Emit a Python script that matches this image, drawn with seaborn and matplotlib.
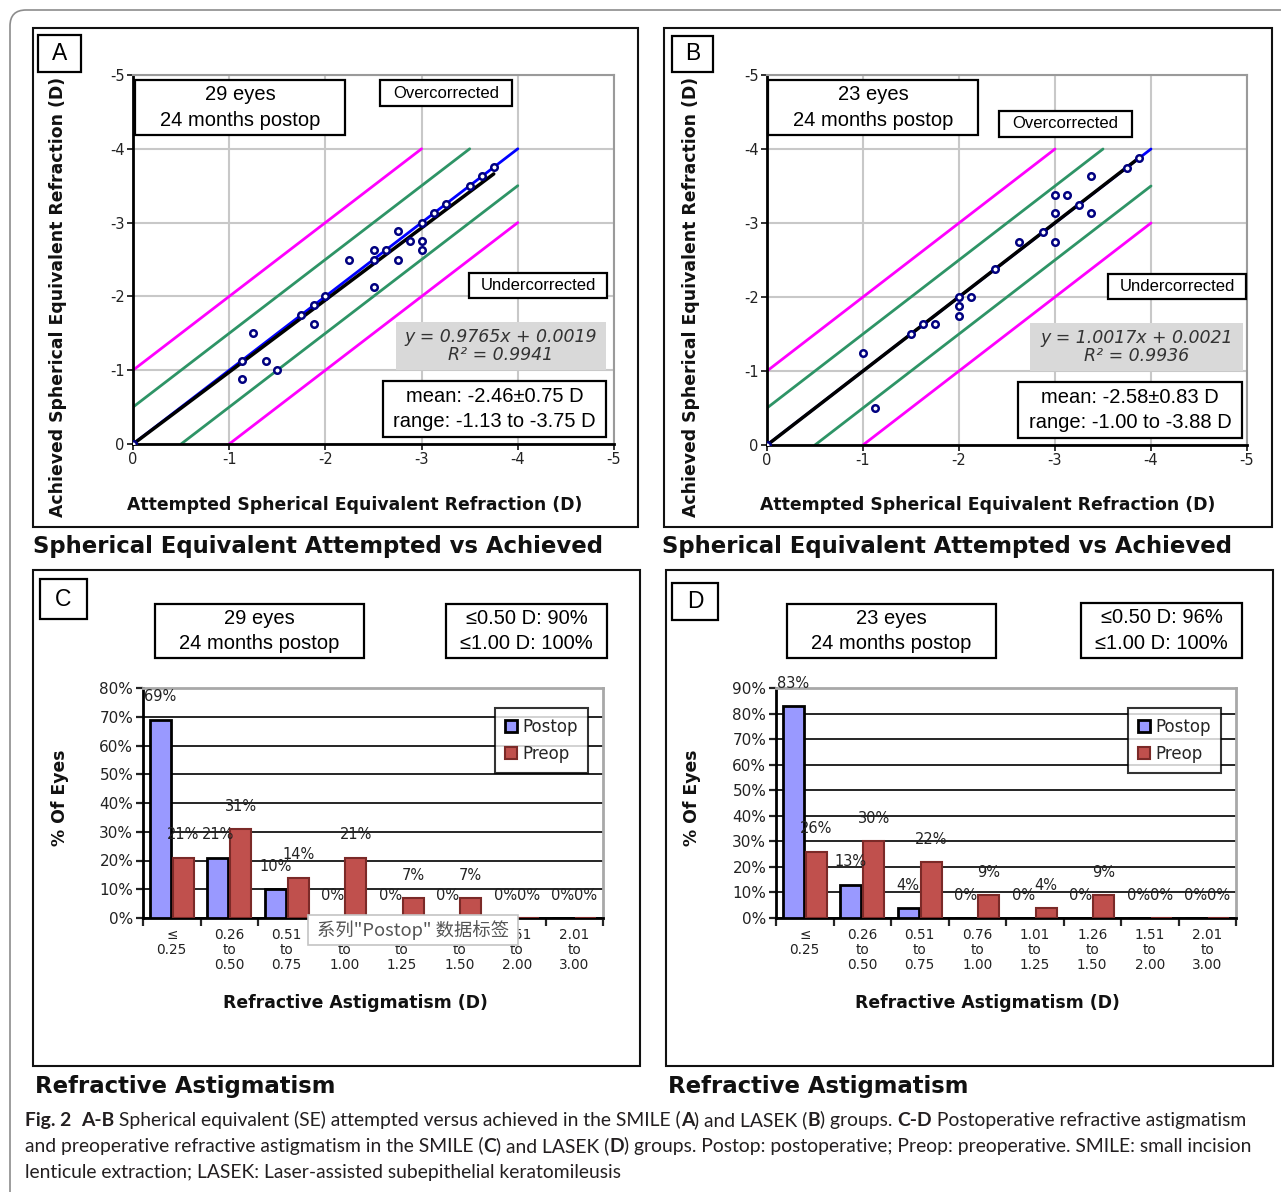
import numpy as np
import pandas as pd
import matplotlib
matplotlib.use("Agg")
import matplotlib.pyplot as plt
import seaborn as sns
from matplotlib.patches import Rectangle, FancyBboxPatch
from matplotlib.transforms import IdentityTransform

# ---------------- data ----------------
se_ticks = [0, -1, -2, -3, -4, -5]

smile_attempted = [0, -1.13, -1.13, -1.25, -1.38, -1.50, -1.75, -1.88, -1.88, -2.00, -2.25, -2.50, -2.50,
                   -2.50, -2.63, -2.75, -2.75, -2.88, -3.00, -3.00, -3.00, -3.13, -3.25, -3.50, -3.63, -3.75]
smile_achieved = [0, -1.13, -0.88, -1.50, -1.13, -1.00, -1.75, -1.88, -1.63, -2.00, -2.50, -2.63, -2.50,
                  -2.13, -2.63, -2.88, -2.50, -2.75, -3.00, -2.75, -2.63, -3.13, -3.25, -3.50, -3.63, -3.75]
lasek_attempted = [0, -1.00, -1.13, -1.50, -1.63, -1.75, -2.00, -2.00, -2.00, -2.13, -2.38, -2.63, -2.88,
                   -3.00, -3.00, -3.00, -3.13, -3.25, -3.38, -3.38, -3.75, -3.88]
lasek_achieved = [0, -1.25, -0.50, -1.50, -1.63, -1.63, -2.00, -1.88, -1.75, -2.00, -2.38, -2.75, -2.88,
                  -3.38, -3.13, -2.75, -3.38, -3.25, -3.63, -3.13, -3.75, -3.88]
smile_fit = (0.9765, 0.0019)
lasek_fit = (1.0017, 0.0021)
band_offsets = [0.5, 1.0]          # +/- D bands around y = x
band_colors = ["#2e9466", "#ff00ff"]

astig_ranges = ["≤\n0.25", "0.26\nto\n0.50", "0.51\nto\n0.75", "0.76\nto\n1.00",
                "1.01\nto\n1.25", "1.26\nto\n1.50", "1.51\nto\n2.00", "2.01\nto\n3.00"]
series_names = ["Postop", "Preop"]
smile_postop = [69, 21, 10, 0, 0, 0, 0, 0]
smile_preop = [21, 31, 14, 21, 7, 7, 0, 0]
lasek_postop = [83, 13, 4, 0, 0, 0, 0, 0]
lasek_preop = [26, 30, 22, 9, 4, 9, 0, 0]

# ---------------- setup ----------------
sns.set_theme(style="white")
plt.rcParams["font.family"] = ["DejaVu Sans"]
plt.rcParams["axes.unicode_minus"] = False

W, H = 1281, 1192
fig = plt.figure(figsize=(W / 100, H / 100), dpi=100)
fig.patch.set_facecolor("white")
renderer = fig.canvas.get_renderer()


def fx(x):
    return x / W


def fy(y):
    return 1 - y / H


def rect_px(x0, y0, x1, y1):
    return [fx(x0), fy(y1), (x1 - x0) / W, (y1 - y0) / H]


def frame(x0, y0, x1, y1, lw=1.5, ec="black", fc=None, z=1):
    fig.add_artist(Rectangle((fx(x0), fy(y1)), (x1 - x0) / W, (y1 - y0) / H,
                             transform=fig.transFigure, fill=fc is not None,
                             facecolor=fc if fc else "none", edgecolor=ec, lw=lw, zorder=z))


def boxed(x0, y0, x1, y1, s, size, family="Liberation Sans", fc="white", ec="black",
          lw=1.6, color="black", **kw):
    frame(x0, y0, x1, y1, lw=lw, ec=ec, fc=fc, z=10)
    fig.text(fx((x0 + x1) / 2), fy((y0 + y1) / 2), s, ha="center", va="center",
             fontsize=size, family=family, color=color, zorder=11, **kw)


def measure(s, **props):
    t = fig.text(0, 0, "|" + s + "|", **props)
    w1 = t.get_window_extent(renderer).width
    t.remove()
    t = fig.text(0, 0, "||", **props)
    w0 = t.get_window_extent(renderer).width
    t.remove()
    return w1 - w0


# rounded outer border of the figure
fig.add_artist(FancyBboxPatch((10, -30), 1320, H - 10 + 30, boxstyle="round,pad=0,rounding_size=16",
                              transform=IdentityTransform(), fill=False, ec="#8c8c8c", lw=1.2, zorder=0))

LABEL_SIZE = 12.4


# ---------------- scatter panels ----------------
def scatter_panel(px_rect, att, ach, fit, xlab_xy, ylab_xy):
    ax = fig.add_axes(rect_px(*px_rect))
    ax.set_facecolor("white")
    ax.set_xlim(0, -5)
    ax.set_ylim(0, -5)
    ax.set_xticks(se_ticks)
    ax.set_yticks(se_ticks)
    ax.set_xticklabels([f"{t:g}" for t in se_ticks])
    ax.set_yticklabels([f"{t:g}" for t in se_ticks])
    ax.grid(True, color="#c8c8c8", lw=1.5)
    ax.set_axisbelow(True)
    for s in ["left", "bottom"]:
        ax.spines[s].set_color("black")
        ax.spines[s].set_linewidth(2)
    for s in ["top", "right"]:
        ax.spines[s].set_color("#9a9a9a")
        ax.spines[s].set_linewidth(1.5)
    ax.tick_params(direction="out", length=4, width=1.3, labelsize=10.5, pad=2,
                   colors="#222", left=True, bottom=True)
    lim = -4.0
    for off, col in zip(band_offsets, band_colors):
        for o in (-off, off):
            a0, a1 = min(0, -o), max(lim, lim - o)
            ax.plot([a0, a1], [a0 + o, a1 + o], color=col, lw=2, zorder=2)
    ax.plot([0, lim], [0, lim], color="#0000ff", lw=2, zorder=2)
    slope, icpt = fit
    xe = min(att)
    ax.plot([0, xe], [icpt, slope * xe + icpt], color="black", lw=2.5, zorder=3)
    sns.scatterplot(x=att, y=ach, ax=ax, s=22, marker="o", facecolor="white",
                    edgecolor="#000080", linewidth=1.8, zorder=5)
    x0, y0, x1, y1 = px_rect
    ax.set_xlabel("Attempted Spherical Equivalent Refraction (D)", fontsize=LABEL_SIZE,
                  fontweight="bold", va="center", color="#111")
    ax.xaxis.set_label_coords((xlab_xy[0] - x0) / (x1 - x0), (y1 - xlab_xy[1]) / (y1 - y0))
    ax.set_ylabel("Achieved Spherical Equivalent Refraction (D)", fontsize=LABEL_SIZE,
                  fontweight="bold", va="center", color="#111")
    ax.yaxis.set_label_coords((ylab_xy[0] - x0) / (x1 - x0), (y1 - ylab_xy[1]) / (y1 - y0))
    return ax


scatter_panel((133, 75, 614, 444), smile_attempted, smile_achieved, smile_fit, (355, 505), (58, 297))
scatter_panel((767, 75, 1247, 445), lasek_attempted, lasek_achieved, lasek_fit, (988, 505), (691, 297))


# ---------------- bar panels ----------------
def bar_panel(px_rect, postop, preop, ymax, xlab_xy, ylab_xy):
    ax = fig.add_axes(rect_px(*px_rect))
    df = pd.DataFrame({
        "range": astig_ranges * 2,
        "pct": postop + preop,
        "series": [series_names[0]] * len(postop) + [series_names[1]] * len(preop),
    })
    sns.barplot(data=df, x="range", y="pct", hue="series", order=astig_ranges,
                hue_order=series_names, palette={"Postop": "#9999ff", "Preop": "#c0504d"},
                saturation=1, width=0.8, gap=0.1, ax=ax, legend=False, zorder=3)
    for p in ax.containers[0]:
        p.set_edgecolor("black")
        p.set_linewidth(2)
    for p in ax.containers[1]:
        p.set_edgecolor("#7b2a28")
        p.set_linewidth(1.5)
    for cont, vals in zip(ax.containers, [postop, preop]):
        ax.bar_label(cont, labels=[f"{v}%" for v in vals], padding=11, fontsize=10.5, color="#222")
    ax.set_ylim(0, ymax)
    ax.set_yticks(np.arange(0, ymax + 1, 10))
    ax.set_yticklabels([f"{v}%" for v in np.arange(0, ymax + 1, 10)])
    ax.yaxis.grid(True, color="black", lw=1.2)
    ax.set_axisbelow(True)
    n = len(astig_ranges)
    ax.set_xlim(-0.5, n - 0.5)
    ax.set_xticks(np.arange(-0.5, n, 1))
    ax.set_xticklabels([])
    ax.set_xticks(np.arange(n), minor=True)
    ax.set_xticklabels(astig_ranges, minor=True, fontsize=9.8, linespacing=1.12, color="#222")
    ax.tick_params(axis="x", which="minor", length=0, pad=7)
    ax.tick_params(axis="x", which="major", length=6, width=1.6, direction="out", bottom=True)
    ax.tick_params(axis="y", length=5, width=1.6, direction="out", left=True, labelsize=11,
                   pad=2, colors="#222")
    for s in ["left", "bottom"]:
        ax.spines[s].set_color("black")
        ax.spines[s].set_linewidth(2)
    for s in ["top", "right"]:
        ax.spines[s].set_color("#a8a8a8")
        ax.spines[s].set_linewidth(2)
    leg = ax.legend([c[0] for c in ax.containers], series_names, loc="upper right",
                    bbox_to_anchor=(0.967, 0.913), borderaxespad=0, frameon=True, fancybox=False,
                    fontsize=12, handlelength=0.75, handleheight=0.75, handletextpad=0.3,
                    borderpad=0.6, labelspacing=0.55, borderaxespad_dummy=None
                    ) if False else ax.legend(
                    [c[0] for c in ax.containers], series_names, loc="upper right",
                    bbox_to_anchor=(0.967, 0.913), borderaxespad=0, frameon=True, fancybox=False,
                    fontsize=12, handlelength=0.75, handleheight=0.75, handletextpad=0.3,
                    borderpad=0.6, labelspacing=0.55, edgecolor="black")
    leg.get_frame().set_linewidth(1.5)
    leg.set_zorder(10)
    x0, y0, x1, y1 = px_rect
    ax.set_xlabel("Refractive Astigmatism (D)", fontsize=LABEL_SIZE, fontweight="bold",
                  va="center", color="#111")
    ax.xaxis.set_label_coords((xlab_xy[0] - x0) / (x1 - x0), (y1 - xlab_xy[1]) / (y1 - y0))
    ax.set_ylabel("% Of Eyes", fontsize=LABEL_SIZE, fontweight="bold", va="center", color="#111")
    ax.yaxis.set_label_coords((ylab_xy[0] - x0) / (x1 - x0), (y1 - ylab_xy[1]) / (y1 - y0))
    return ax


bar_panel((143, 688, 603, 918), smile_postop, smile_preop, 80, (355, 1003), (60, 798))
bar_panel((776, 688, 1236, 918), lasek_postop, lasek_preop, 90, (987, 1003), (692, 798))

# ---------------- frames, boxes, titles ----------------
for b in [(33, 28, 638, 527), (664, 28, 1272, 527), (33, 570, 640, 1066), (666, 570, 1273, 1066)]:
    frame(*b, lw=1.5, ec="#111", z=9)

for (bx, letter) in [((38, 35, 81, 72), "A"), ((672, 36, 713, 72), "B"),
                     ((40, 579, 87, 619), "C"), ((672, 583, 718, 620), "D")]:
    boxed(*bx, letter, 16.5)

eyes_a = "29 eyes\n24 months postop"
eyes_b = "23 eyes\n24 months postop"
BOX_SIZE = 14.5
BOX_LS = 1.45
boxed(135, 80, 345, 135, eyes_a, BOX_SIZE, linespacing=BOX_LS)
boxed(380, 80, 512, 106, "Overcorrected", 12)
boxed(469, 273, 607, 298, "Undercorrected", 12)
boxed(396, 322, 606, 370, "y = 0.9765x + 0.0019\nR² = 0.9941", 12.5, family="DejaVu Sans",
      fc="#d9d9d9", ec="none", color="#333", style="italic", linespacing=0.95)
boxed(383, 381, 606, 437, "mean: -2.46±0.75 D\nrange: -1.13 to -3.75 D", BOX_SIZE, linespacing=BOX_LS)

boxed(768, 80, 978, 135, eyes_b, BOX_SIZE, linespacing=BOX_LS)
boxed(999, 111, 1132, 137, "Overcorrected", 12)
boxed(1108, 274, 1246, 299, "Undercorrected", 12)
boxed(1030, 323, 1243, 371, "y = 1.0017x + 0.0021\nR² = 0.9936", 12.5, family="DejaVu Sans",
      fc="#d9d9d9", ec="none", color="#333", style="italic", linespacing=0.95)
boxed(1018, 382, 1242, 438, "mean: -2.58±0.83 D\nrange: -1.00 to -3.88 D", BOX_SIZE, linespacing=BOX_LS)

boxed(155, 604, 364, 658, eyes_a, BOX_SIZE, linespacing=BOX_LS)
boxed(446, 604, 607, 658, "≤0.50 D: 90%\n≤1.00 D: 100%", BOX_SIZE, linespacing=BOX_LS)
boxed(787, 604, 996, 658, eyes_b, BOX_SIZE, linespacing=BOX_LS)
boxed(1081, 603, 1242, 658, "≤0.50 D: 96%\n≤1.00 D: 100%", BOX_SIZE, linespacing=BOX_LS)

# tooltip overlay present in the source screenshot
boxed(308, 915, 518, 945, "系列\"Postop\" 数据标签", 13.2, family=["Noto Sans CJK SC", "DejaVu Sans"],
      ec="#c4c4c4", lw=1.2, color="#555")

# panel titles
t1 = "Spherical Equivalent Attempted vs Achieved"
t2 = "Refractive Astigmatism"
tprops = dict(fontweight="bold", family="DejaVu Sans")
ts = 15 * 574 / measure(t1, fontsize=15, **tprops)
for x, y, s in [(33, 546, t1), (662, 547, t1), (35, 1086, t2), (668, 1086, t2)]:
    fig.text(fx(x), fy(y), s, ha="left", va="center", fontsize=ts, color="#111", **tprops)

# caption
cap_lines = [
    [("Fig. 2", True), ("  ", False), ("A-B", True),
     (" Spherical equivalent (SE) attempted versus achieved in the SMILE (", False), ("A", True),
     (") and LASEK (", False), ("B", True), (") groups. ", False), ("C-D", True),
     (" Postoperative refractive astigmatism", False)],
    [("and preoperative refractive astigmatism in the SMILE (", False), ("C", True),
     (") and LASEK (", False), ("D", True),
     (") groups. Postop: postoperative; Preop: preoperative. SMILE: small incision", False)],
    [("lenticule extraction; LASEK: Laser-assisted subepithelial keratomileusis", False)],
]
cap_family = "Lato"


def line_width(runs, size):
    return sum(measure(s, fontsize=size, family=cap_family,
                       fontweight="bold" if b else "normal") for s, b in runs)


cs = 10 * 1223 / line_width(cap_lines[0], 10)
for runs, yb in zip(cap_lines, [1126, 1152, 1178]):
    cur = 25
    for s, b in runs:
        fig.text(fx(cur), fy(yb), s, ha="left", va="baseline", fontsize=cs, family=cap_family,
                 fontweight="bold" if b else "normal", color="#231f20")
        cur += measure(s, fontsize=cs, family=cap_family, fontweight="bold" if b else "normal")

fig.savefig("out.png", dpi=100, facecolor="white")
